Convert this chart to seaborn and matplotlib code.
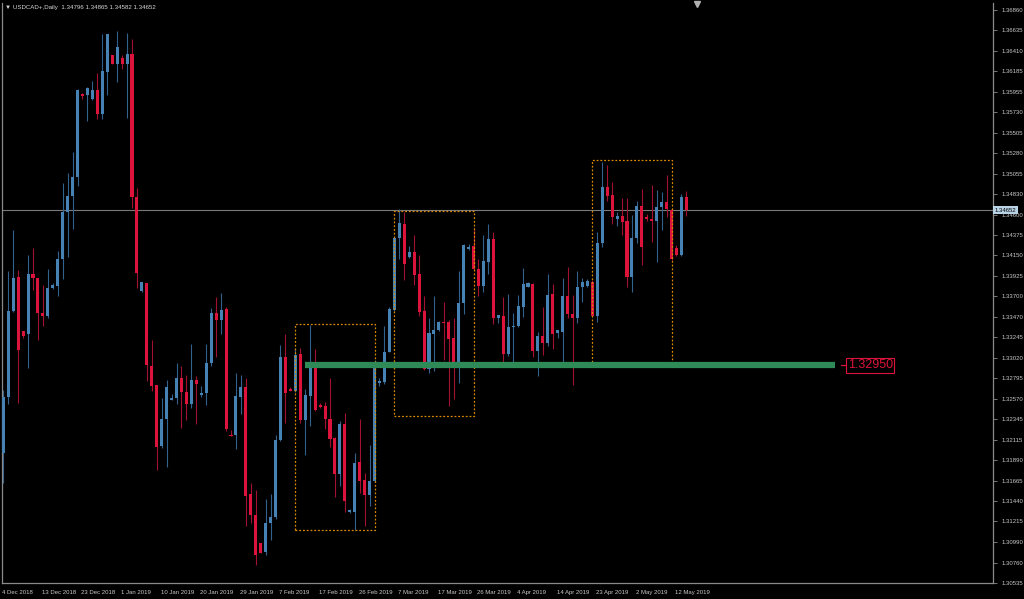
import numpy as np
import pandas as pd
import matplotlib
matplotlib.use("Agg")
import matplotlib.pyplot as plt
import matplotlib.transforms as mtransforms
from matplotlib.patches import Rectangle
import seaborn as sns

# USDCAD daily OHLC (bar 0 = 4 Dec 2018)
opens = [1.31973, 1.32591, 1.33537, 1.33909, 1.33316, 1.33280, 1.33943, 1.33905, 1.33512, 1.33482,
         1.33788, 1.33816, 1.34108, 1.34627, 1.34807, 1.35016, 1.35930, 1.35925, 1.35878, 1.35977,
         1.35715, 1.36178, 1.36363, 1.36266, 1.36330, 1.36260, 1.36371, 1.34796, 1.33758, 1.33849,
         1.32933, 1.32721, 1.32047, 1.32345, 1.32555, 1.32577, 1.32801, 1.32640, 1.32511, 1.32779,
         1.32610, 1.32629, 1.32960, 1.33512, 1.33438, 1.33560, 1.32169, 1.32165, 1.32591, 1.32702,
         1.31514, 1.31286, 1.30980, 1.30880, 1.31194, 1.31267, 1.32113, 1.33027, 1.32680, 1.32657,
         1.33060, 1.32334, 1.32602, 1.32922, 1.32500, 1.32492, 1.32345, 1.32133, 1.31738, 1.32290,
         1.31322, 1.31322, 1.31874, 1.31672, 1.31506, 1.31661, 1.32748, 1.32754, 1.33088, 1.33548,
         1.34340, 1.34498, 1.34130, 1.34188, 1.33946, 1.33537, 1.32894, 1.33283, 1.33327, 1.33416,
         1.33416, 1.33239, 1.32949, 1.33622, 1.34222, 1.34255, 1.34001, 1.33813, 1.34081, 1.34332,
         1.33457, 1.33485, 1.33063, 1.33358, 1.33372, 1.33585, 1.33805, 1.33832, 1.33096, 1.33264,
         1.33187, 1.33725, 1.33297, 1.33305, 1.33703, 1.33504, 1.33463, 1.33798, 1.33813, 1.33854,
         1.33485, 1.34285, 1.34903, 1.34818, 1.34553, 1.34589, 1.34531, 1.33916, 1.34340, 1.34699,
         1.34578, 1.34553, 1.34534, 1.34689, 1.34738, 1.34652, 1.34229, 1.34155, 1.34796]
highs = [1.32665, 1.33982, 1.34431, 1.33990, 1.33316, 1.34155, 1.34229, 1.33905, 1.33824, 1.33998,
         1.33843, 1.34199, 1.34953, 1.35057, 1.35289, 1.35988, 1.35941, 1.36013, 1.36076, 1.36161,
         1.36592, 1.36592, 1.36363, 1.36628, 1.36363, 1.36609, 1.36537, 1.34898, 1.33857, 1.33849,
         1.33217, 1.32721, 1.32580, 1.32776, 1.32618, 1.32960, 1.32930, 1.32831, 1.33173, 1.32823,
         1.32710, 1.33170, 1.33568, 1.33695, 1.33733, 1.33585, 1.32224, 1.32850, 1.32831, 1.32801,
         1.31636, 1.31561, 1.30980, 1.31459, 1.31517, 1.32169, 1.33162, 1.33280, 1.32702, 1.33126,
         1.33132, 1.32674, 1.33383, 1.33115, 1.32519, 1.32530, 1.32801, 1.32144, 1.32326, 1.32408,
         1.31352, 1.31967, 1.32342, 1.31752, 1.32058, 1.32996, 1.32795, 1.33372, 1.33585, 1.34346,
         1.34660, 1.34633, 1.34258, 1.34376, 1.34155, 1.33703, 1.33457, 1.33703, 1.33430, 1.33640,
         1.33438, 1.33457, 1.33982, 1.34277, 1.34277, 1.34451, 1.34108, 1.34376, 1.34498, 1.34409,
         1.33493, 1.33695, 1.33725, 1.33512, 1.33714, 1.34009, 1.33860, 1.33849, 1.33308, 1.33585,
         1.33943, 1.33835, 1.33327, 1.33899, 1.34020, 1.33714, 1.33982, 1.33899, 1.33888, 1.33879,
         1.34412, 1.35185, 1.35149, 1.34964, 1.34633, 1.34782, 1.34789, 1.34597, 1.34751, 1.34884,
         1.34608, 1.34928, 1.34873, 1.34854, 1.35038, 1.34674, 1.34266, 1.34829, 1.34865]
lows = [1.31639, 1.32511, 1.33530, 1.32519, 1.33235, 1.32911, 1.33769, 1.33217, 1.33372, 1.33463,
        1.33785, 1.33706, 1.33888, 1.34136, 1.34446, 1.34917, 1.35875, 1.35634, 1.35866, 1.35654,
        1.35654, 1.35922, 1.36266, 1.36068, 1.36211, 1.35671, 1.34677, 1.33794, 1.33750, 1.32765,
        1.32657, 1.31782, 1.32028, 1.31819, 1.32550, 1.32508, 1.32249, 1.32334, 1.32470, 1.32290,
        1.32591, 1.32500, 1.32930, 1.33027, 1.33280, 1.32216, 1.32158, 1.32014, 1.32397, 1.31164,
        1.31194, 1.30734, 1.30869, 1.30844, 1.31010, 1.31239, 1.32105, 1.32304, 1.32654, 1.32646,
        1.32304, 1.31948, 1.32271, 1.32433, 1.32470, 1.32232, 1.32039, 1.31487, 1.31609, 1.31322,
        1.31308, 1.31120, 1.31531, 1.31167, 1.31385, 1.31650, 1.32710, 1.32732, 1.33080, 1.33540,
        1.34108, 1.33879, 1.34125, 1.33824, 1.33485, 1.32886, 1.32856, 1.32878, 1.33319, 1.32996,
        1.32489, 1.32563, 1.32740, 1.33504, 1.34210, 1.33990, 1.33703, 1.33750, 1.33946, 1.33394,
        1.33402, 1.32952, 1.33041, 1.32952, 1.33364, 1.33474, 1.33798, 1.33033, 1.32823, 1.33052,
        1.33151, 1.33115, 1.33242, 1.32960, 1.33457, 1.32721, 1.33408, 1.33640, 1.33798, 1.33482,
        1.33419, 1.34247, 1.34754, 1.34498, 1.34479, 1.34376, 1.33798, 1.33750, 1.34291, 1.34045,
        1.34534, 1.34302, 1.34081, 1.34431, 1.34578, 1.34100, 1.34144, 1.34144, 1.34582]
closes = [1.32591, 1.33537, 1.33899, 1.33107, 1.33264, 1.33943, 1.33899, 1.33518, 1.33482, 1.33788,
          1.33824, 1.34108, 1.34633, 1.34807, 1.35016, 1.35974, 1.35914, 1.35999, 1.35977, 1.35715,
          1.36186, 1.36592, 1.36266, 1.36451, 1.36260, 1.36377, 1.34799, 1.33960, 1.33857, 1.32941,
          1.32713, 1.32039, 1.32348, 1.32699, 1.32580, 1.32801, 1.32640, 1.32511, 1.32779, 1.32732,
          1.32635, 1.32960, 1.33512, 1.33438, 1.33548, 1.32232, 1.32158, 1.32599, 1.32702, 1.31498,
          1.31286, 1.30844, 1.30869, 1.31194, 1.31267, 1.32113, 1.33027, 1.32635, 1.32654, 1.33049,
          1.32334, 1.32610, 1.32922, 1.32444, 1.32475, 1.32345, 1.32125, 1.31738, 1.32290, 1.31440,
          1.31341, 1.31863, 1.31664, 1.31506, 1.31664, 1.32930, 1.32765, 1.33085, 1.33560, 1.34340,
          1.34506, 1.34053, 1.34191, 1.33935, 1.33529, 1.32894, 1.33291, 1.33327, 1.33416, 1.33402,
          1.33231, 1.32949, 1.33629, 1.34266, 1.34247, 1.34001, 1.33813, 1.34089, 1.34332, 1.33463,
          1.33493, 1.33063, 1.33361, 1.33372, 1.33593, 1.33832, 1.33843, 1.33096, 1.33264, 1.33187,
          1.33714, 1.33283, 1.33327, 1.33703, 1.33504, 1.33457, 1.33805, 1.33860, 1.33868, 1.33485,
          1.34285, 1.34903, 1.34810, 1.34572, 1.34589, 1.34523, 1.33916, 1.34340, 1.34699, 1.34247,
          1.34553, 1.34531, 1.34689, 1.34738, 1.34663, 1.34111, 1.34155, 1.34792, 1.34652]

date_labels = ['4 Dec 2018', '13 Dec 2018', '23 Dec 2018', '1 Jan 2019', '10 Jan 2019',
               '20 Jan 2019', '29 Jan 2019', '7 Feb 2019', '17 Feb 2019', '26 Feb 2019',
               '7 Mar 2019', '17 Mar 2019', '26 Mar 2019', '4 Apr 2019', '14 Apr 2019',
               '23 Apr 2019', '2 May 2019', '12 May 2019']
date_bars = list(range(0, 137, 8))

price_ticks = [1.36860, 1.36635, 1.36410, 1.36185, 1.35955, 1.35730, 1.35505, 1.35280,
               1.35055, 1.34830, 1.34600, 1.34375, 1.34150, 1.33925, 1.33700, 1.33470,
               1.33245, 1.33020, 1.32795, 1.32570, 1.32345, 1.32115, 1.31890, 1.31665,
               1.31440, 1.31215, 1.30990, 1.30760, 1.30535]

# dotted consolidation boxes (bar from, bar to, top, bottom)
box_from = [59, 79, 119]
box_to = [75.1, 95.1, 135.15]
box_top = [1.33391, 1.34645, 1.35204]
box_bottom = [1.31120, 1.32379, 1.32934]

# support level
level_price = 1.32940
level_label = '1.32950'
level_from, level_to = 61, 168

df = pd.DataFrame({'open': opens, 'high': highs, 'low': lows, 'close': closes})
df['bar'] = np.arange(len(df))
df['bull'] = df['close'] > df['open']
last = df.iloc[-1]

sns.set_style("dark", {"axes.facecolor": "black", "figure.facecolor": "black"})
plt.rcParams['font.family'] = ['Liberation Sans', 'DejaVu Sans']

BLUE, RED = '#4682B4', '#DC143C'
WICK_BLUE, WICK_RED = '#31618c', '#a0122f'
GRAY = '#8a8a8a'
SMALL = 4.3

fig = plt.figure(figsize=(10.24, 5.99), dpi=100)
ax = fig.add_axes([2 / 1024, 16 / 599, 991 / 1024, 580 / 599])
ax.set_facecolor('black')

# wicks
ax.vlines(df['bar'], df['low'], df['high'],
          colors=np.where(df['bull'], WICK_BLUE, WICK_RED), linewidth=0.8, zorder=2)
# bodies
body_bottom = df[['open', 'close']].min(axis=1)
body_h = (df['close'] - df['open']).abs().clip(lower=0.00012)
ax.bar(df['bar'], body_h, bottom=body_bottom, width=0.62,
       color=np.where(df['bull'], BLUE, RED), linewidth=0, zorder=3)

# current price line
ax.axhline(last['close'], color='#7a7a7a', linewidth=0.8, zorder=1)

# dotted boxes
for x0, x1, top, bot in zip(box_from, box_to, box_top, box_bottom):
    ax.add_patch(Rectangle((x0, bot), x1 - x0, top - bot, fill=False,
                           edgecolor='#d98a00', linewidth=0.9,
                           linestyle=(0, (1.5, 1.5)), zorder=4))

# support level line + label
ax.plot([level_from, level_to], [level_price, level_price], color='#2e8b57',
        linewidth=4.5, solid_capstyle='butt', zorder=5)
ax.plot([169.2, 170.3], [level_price, level_price], color=RED, linewidth=0.9, zorder=5)
ax.text(170.6, level_price, level_label, color=RED, fontsize=9, va='center', ha='left',
        bbox=dict(boxstyle='square,pad=0.12', facecolor='black', edgecolor=RED, linewidth=0.8),
        zorder=6)

ax.set_xlim(-0.26, 199.94)
ax.set_ylim(1.30535, 1.36937)

# axes / ticks styled like the terminal
for side in ['left', 'right', 'bottom']:
    ax.spines[side].set_visible(True)
    ax.spines[side].set_color(GRAY)
    ax.spines[side].set_linewidth(0.9)
ax.spines['top'].set_visible(False)

ax.yaxis.tick_right()
ax.set_yticks(price_ticks)
ax.set_yticklabels([f'{p:.5f}' for p in price_ticks])
ax.tick_params(axis='y', direction='out', length=3, width=0.6, color=GRAY,
               labelsize=SMALL, labelcolor='#c8c8c8', pad=3)
ax.set_xticks(date_bars)
ax.set_xticklabels(date_labels, ha='left')
ax.tick_params(axis='x', direction='out', length=3, width=0.6, color=GRAY,
               labelsize=SMALL, labelcolor='#c8c8c8', pad=2)
for lbl in ax.get_xticklabels():
    lbl.set_transform(lbl.get_transform() + mtransforms.ScaledTranslation(-1 / 100, 0, fig.dpi_scale_trans))
ax.grid(False)

# current price tag on the price scale
ax.text(1.002, last['close'], f"{last['close']:.5f}",
        transform=mtransforms.blended_transform_factory(ax.transAxes, ax.transData),
        fontsize=SMALL, color='black', va='center', ha='left', clip_on=False,
        bbox=dict(boxstyle='square,pad=0.25', facecolor='#b9d3e6', edgecolor='none'),
        zorder=10)

# chart shift marker
ax.plot([140.1], [1.36925], marker='v', color='#b0b0b0', markersize=4, clip_on=False,
        linestyle='none', zorder=10)

fig.text(5 / 1024, 1 - 8 / 599,
         f"\u25bc USDCAD+,Daily  {last['open']:.5f} {last['high']:.5f} {last['low']:.5f} {last['close']:.5f}",
         fontsize=4.4, color='#d8d8d8', va='center', ha='left')

fig.savefig('out.png', dpi=100, facecolor='black')
